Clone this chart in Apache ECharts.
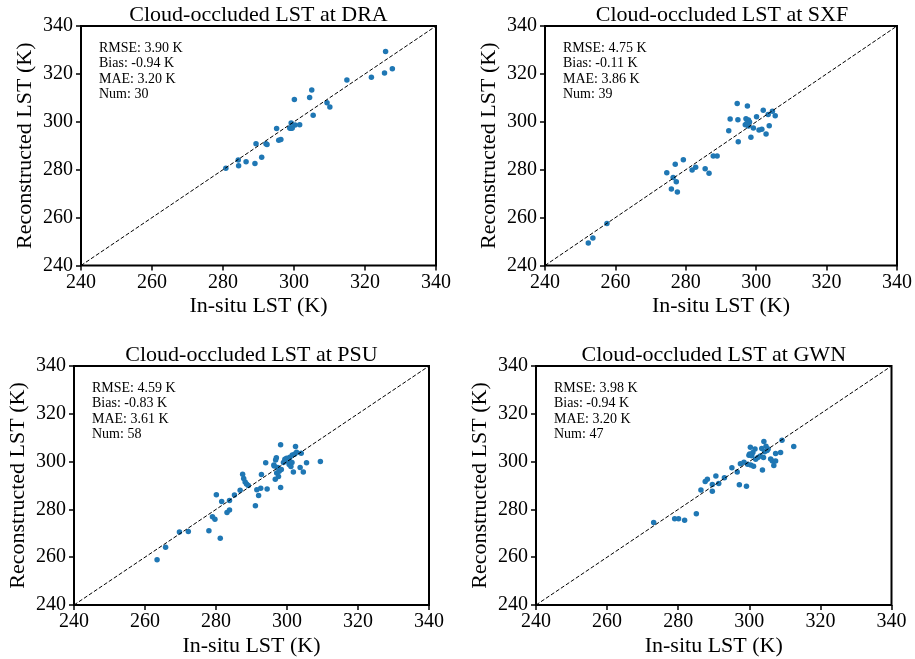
<!DOCTYPE html>
<html>
<head>
<meta charset="utf-8">
<script src="https://cdn.jsdelivr.net/npm/echarts@6/dist/echarts.min.js"></script>
<style>
  html, body { margin: 0; padding: 0; background: #fff; }
  #chart { width: 915px; height: 659px; }
</style>
</head>
<body>
<div id="chart"></div>
<script>
const tickValues = [240, 260, 280, 300, 320, 340]

const stations = ['DRA', 'SXF', 'PSU', 'GWN']

const statsText = [
  ['RMSE: 3.90 K', 'Bias: -0.94 K', 'MAE: 3.20 K', 'Num: 30'],
  ['RMSE: 4.75 K', 'Bias: -0.11 K', 'MAE: 3.86 K', 'Num: 39'],
  ['RMSE: 4.59 K', 'Bias: -0.83 K', 'MAE: 3.61 K', 'Num: 58'],
  ['RMSE: 3.98 K', 'Bias: -0.94 K', 'MAE: 3.20 K', 'Num: 47']
]

// in-situ (x) and reconstructed (y) LST, K
const draInSitu = [280.8, 284.3, 284.4, 286.5, 289.0, 289.3, 290.9, 292.1, 292.4, 295.1, 295.7, 296.3, 299.0, 299.2, 299.5, 300.3, 301.6, 300.1, 304.4, 305.0, 305.4, 309.3, 310.1, 314.9, 321.8, 325.5, 325.8, 327.7, 298.8, 299.3]
const draRecon = [280.6, 284.1, 281.7, 283.3, 282.6, 290.8, 285.2, 290.8, 290.5, 297.2, 292.3, 292.6, 297.3, 299.5, 297.4, 298.7, 298.8, 309.3, 310.1, 313.3, 302.7, 308.0, 306.2, 317.5, 318.6, 320.4, 329.4, 322.1, 297.4, 297.3]

const sxfInSitu = [252.3, 253.6, 257.6, 274.6, 277.0, 279.3, 276.4, 277.3, 275.9, 277.6, 281.8, 282.8, 285.5, 286.6, 287.8, 288.9, 292.2, 292.6, 294.6, 294.8, 294.9, 297.5, 297.1, 297.8, 298.1, 296.9, 297.8, 299.2, 298.5, 300.1, 302.0, 303.4, 304.6, 305.4, 300.8, 301.6, 303.7, 302.8, 297.3]
const sxfRecon = [249.4, 251.5, 257.5, 278.7, 282.3, 284.2, 276.7, 275.0, 271.9, 270.7, 279.9, 281.0, 280.4, 278.5, 285.7, 285.7, 296.3, 301.2, 307.6, 300.9, 291.7, 306.6, 301.3, 300.8, 299.9, 298.8, 298.2, 297.4, 293.5, 302.1, 304.8, 303.1, 304.4, 302.5, 296.6, 296.9, 298.4, 294.9, 299.3]

const psuInSitu = [263.4, 265.8, 269.7, 272.2, 278.0, 281.2, 279.0, 279.7, 280.1, 281.6, 283.1, 283.8, 283.8, 285.2, 286.8, 287.5, 287.8, 288.2, 288.6, 289.1, 291.1, 291.5, 292.0, 292.6, 292.8, 294.0, 294.4, 296.3, 296.7, 296.8, 297.0, 297.1, 297.4, 297.6, 297.8, 298.2, 298.2, 298.4, 299.0, 299.4, 299.9, 300.3, 300.6, 300.8, 301.1, 301.5, 301.8, 302.2, 302.4, 302.7, 303.7, 304.0, 304.6, 305.5, 309.4, 300.8, 296.4, 301.4]
const psuRecon = [258.9, 264.2, 270.5, 270.8, 271.1, 267.9, 276.9, 275.9, 286.1, 283.3, 278.7, 279.7, 283.7, 286.0, 288.0, 294.7, 292.9, 291.5, 290.6, 290.0, 281.5, 288.2, 285.8, 288.9, 294.6, 299.5, 288.5, 298.6, 292.6, 300.7, 301.6, 295.2, 297.5, 293.8, 296.0, 307.1, 289.2, 296.7, 299.6, 301.0, 301.4, 300.0, 298.8, 301.8, 297.9, 302.8, 295.7, 303.2, 306.3, 303.9, 297.5, 303.5, 295.7, 299.5, 300.0, 300.0, 298.2, 299.6]

const gwnInSitu = [273.1, 279.0, 280.1, 281.8, 285.1, 286.4, 287.6, 288.2, 289.6, 289.6, 290.6, 291.4, 293.0, 295.1, 296.6, 297.2, 297.5, 298.5, 299.2, 299.9, 300.3, 300.4, 300.7, 301.0, 301.2, 301.6, 301.8, 302.4, 303.1, 303.5, 303.7, 304.0, 304.1, 304.3, 304.7, 305.0, 305.3, 306.0, 306.5, 306.9, 307.4, 307.4, 308.8, 309.2, 312.5, 299.5, 300.1]
const gwnRecon = [274.5, 276.1, 276.1, 275.5, 278.2, 288.1, 291.7, 292.6, 287.6, 290.4, 294.0, 290.8, 293.2, 297.4, 295.7, 290.3, 299.1, 299.7, 289.7, 302.7, 306.0, 298.6, 302.4, 303.8, 298.1, 305.3, 301.0, 301.7, 302.3, 305.5, 296.5, 301.7, 308.4, 304.1, 306.4, 304.6, 305.3, 301.1, 300.3, 298.4, 300.3, 303.4, 303.8, 308.9, 306.3, 298.9, 303.2]

const inSitu = [draInSitu, sxfInSitu, psuInSitu, gwnInSitu]
const recon = [draRecon, sxfRecon, psuRecon, gwnRecon]

const grids = [
  { left: 81, top: 26, width: 355, height: 239.5 },
  { left: 545, top: 26, width: 354, height: 239.5 },
  { left: 74, top: 366, width: 355, height: 239 },
  { left: 536, top: 366, width: 355.5, height: 239 }
]

const font = 'Liberation Serif, Times New Roman, serif'
const chart = echarts.init(document.getElementById('chart'))

const titles = []
grids.forEach((g, i) => {
  titles.push({
    text: 'Cloud-occluded LST at ' + stations[i],
    left: g.left + g.width / 2,
    textAlign: 'center',
    top: g.top - 22,
    padding: 0,
    textStyle: { fontFamily: font, fontSize: 22, fontWeight: 'normal', color: '#000' }
  })
  titles.push({
    text: statsText[i].join('\n'),
    left: g.left + 18,
    top: g.top + 14.5,
    padding: 0,
    textStyle: { fontFamily: font, fontSize: 14, fontWeight: 'normal', color: '#000', lineHeight: 15.4 }
  })
})

const axisCommon = {
  type: 'value',
  min: 240,
  max: 340,
  interval: 20,
  nameLocation: 'middle',
  nameTextStyle: { fontFamily: font, fontSize: 22, color: '#000' },
  axisLine: { show: false },
  axisTick: { show: true, length: 5, lineStyle: { color: '#000', width: 1.5 } },
  splitLine: { show: false },
  axisLabel: {
    fontFamily: font,
    fontSize: 20,
    color: '#000',
    showMinLabel: true,
    showMaxLabel: true,
    customValues: tickValues
  }
}

const option = {
  animation: false,
  backgroundColor: '#fff',
  title: titles,
  grid: grids.map((g) => ({ ...g, show: true, borderColor: '#000', borderWidth: 2, backgroundColor: 'transparent' })),
  xAxis: grids.map((g, i) => ({
    ...axisCommon,
    gridIndex: i,
    name: 'In-situ LST (K)',
    nameGap: 30,
    axisLabel: { ...axisCommon.axisLabel, margin: 7 }
  })),
  yAxis: grids.map((g, i) => ({
    ...axisCommon,
    gridIndex: i,
    name: 'Reconstructed LST (K)',
    nameGap: 45,
    axisLabel: { ...axisCommon.axisLabel, margin: 8 }
  })),
  series: []
}

grids.forEach((g, i) => {
  option.series.push({
    type: 'line',
    xAxisIndex: i,
    yAxisIndex: i,
    data: [[240, 240], [340, 340]],
    symbol: 'none',
    silent: true,
    lineStyle: { color: '#000', width: 1, type: [4, 2] }
  })
  option.series.push({
    type: 'scatter',
    xAxisIndex: i,
    yAxisIndex: i,
    data: inSitu[i].map((x, k) => [x, recon[i][k]]),
    symbolSize: 5.5,
    itemStyle: { color: '#1f77b4', opacity: 1 }
  })
})

chart.setOption(option)
</script>
</body>
</html>
